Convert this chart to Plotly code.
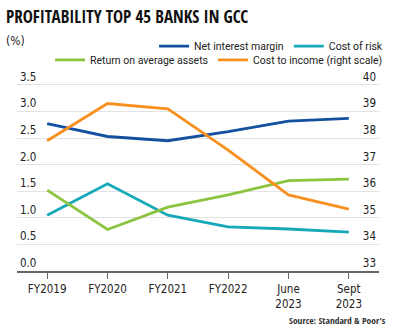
import plotly.graph_objects as go

categories = ["FY2019", "FY2020", "FY2021", "FY2022", "June<br>2023", "Sept<br>2023"]
net_interest_margin = [2.77, 2.53, 2.45, 2.62, 2.82, 2.87]
cost_of_risk = [1.05, 1.64, 1.05, 0.83, 0.79, 0.73]
return_on_avg_assets = [1.52, 0.78, 1.20, 1.43, 1.70, 1.73]
cost_to_income = [37.9, 39.3, 39.1, 37.55, 35.86, 35.33]

left_ticks = [0.0, 0.5, 1.0, 1.5, 2.0, 2.5, 3.0, 3.5]
left_ticktext = ["0.0", "0.5", "1.0", "1.5", "2.0", "2.5", "3.0", "3.5"]
right_ticks = [33, 34, 35, 36, 37, 38, 39, 40]

FONT = "DejaVu Sans Condensed, Roboto, sans-serif"
LEGFONT = "Roboto, sans-serif"
TFONT = "Open Sans Condensed, Roboto, sans-serif"
BLUE = "#1450a0"
TEAL = "#17a9b8"
GREEN = "#8cc43f"
ORANGE = "#f7901e"


def lfont(size, color="#222"):
    return dict(family=FONT, size=size, color=color)


fig = go.Figure()
fig.add_trace(go.Scatter(x=categories, y=net_interest_margin, mode="lines",
                         name="Net interest margin", line=dict(color=BLUE, width=2.8),
                         legend="legend"))
fig.add_trace(go.Scatter(x=categories, y=cost_of_risk, mode="lines",
                         name="Cost of risk", line=dict(color=TEAL, width=2.8),
                         legend="legend"))
fig.add_trace(go.Scatter(x=categories, y=return_on_avg_assets, mode="lines",
                         name="Return on average assets", line=dict(color=GREEN, width=2.8),
                         legend="legend2"))
fig.add_trace(go.Scatter(x=categories, y=cost_to_income, mode="lines",
                         name="Cost to income (right scale)", line=dict(color=ORANGE, width=2.8),
                         legend="legend2", yaxis="y2"))

legend_common = dict(orientation="h", xanchor="right", x=1.025, yanchor="middle",
                     font=dict(family=LEGFONT, size=10.5, color="#222"),
                     bgcolor="rgba(0,0,0,0)", itemwidth=30, tracegroupgap=0,
                     traceorder="normal")

fig.update_layout(
    width=400, height=330,
    margin=dict(l=17, r=17, t=61, b=59),
    paper_bgcolor="white", plot_bgcolor="white",
    font=lfont(11),
    showlegend=True,
    legend=dict(y=1.071, **legend_common),
    legend2=dict(y=1.005, **legend_common),
    xaxis=dict(type="category", range=[-0.5, 5.5], showgrid=False,
               showline=True, linecolor="#666", linewidth=1.5,
               ticks="outside", ticklen=6, tickcolor="#666", tickwidth=1,
               tickfont=lfont(11.5), fixedrange=True),
    yaxis=dict(range=[0, 3.95], tickvals=left_ticks, ticktext=left_ticktext,
               ticklabelposition="inside top", showgrid=True, gridcolor="#e3e3e3",
               gridwidth=1, zeroline=False, showline=False, ticks="",
               tickfont=lfont(11.5), fixedrange=True),
    yaxis2=dict(range=[33, 40.9], tickvals=right_ticks, overlaying="y", side="right",
                ticklabelposition="inside top", showgrid=False, zeroline=False,
                showline=False, ticks="",
                tickfont=lfont(11.5), fixedrange=True),
    annotations=[
        dict(text="PROFITABILITY TOP 45 BANKS IN GCC", xref="paper", yref="paper",
             x=-0.035, y=1.0, xanchor="left", yanchor="bottom", yshift=31,
             showarrow=False, font=dict(family=TFONT, size=17, color="#111", weight=700)),
        dict(text="(%)", xref="paper", yref="paper", x=-0.035, y=1.0,
             xanchor="left", yanchor="bottom", yshift=11, showarrow=False,
             font=lfont(12)),
        dict(text="Source: Standard & Poor's", xref="paper", yref="paper",
             x=1.025, y=0, xanchor="right", yanchor="top", yshift=-41,
             showarrow=False, font=dict(family=TFONT, size=9.5, color="#333", weight=700)),
    ],
)

fig.write_html("out.html")
